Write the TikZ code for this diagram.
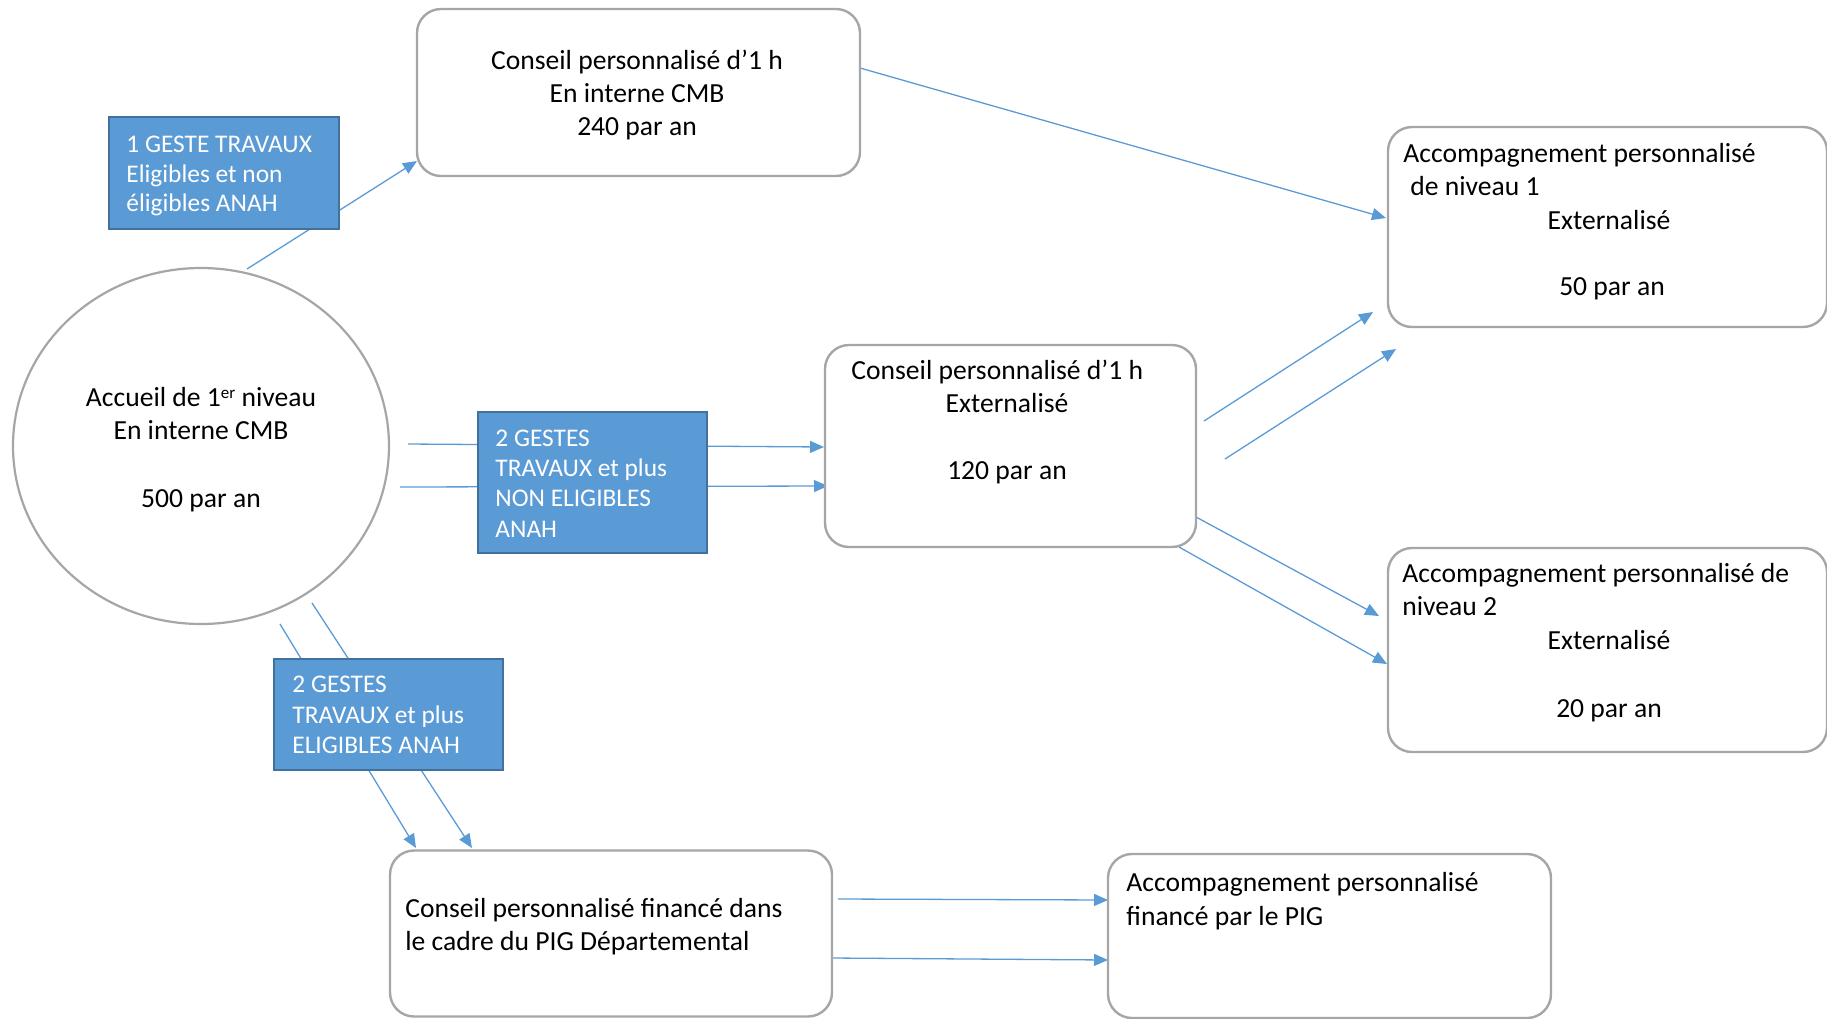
\documentclass[tikz,border=0pt]{standalone}
\usepackage{fontspec}
\setmainfont{Carlito}
\usetikzlibrary{arrows.meta,shapes.geometric}
\definecolor{lineblue}{HTML}{5B9BD5}
\definecolor{boxblue}{HTML}{5B9BD5}
\definecolor{boxedge}{HTML}{41719C}
\definecolor{greyedge}{HTML}{A6A6A6}
\begin{document}
\begin{tikzpicture}[x=0.5pt,y=-0.5pt,
  conn/.style={draw=lineblue, line width=0.65pt},
  arr/.style={conn, -{Triangle[length=7pt,width=6pt]}},
  rbox/.style={draw=greyedge, line width=1.2pt, rounded corners=12pt, fill=white, inner sep=0pt},
  bbox/.style={draw=boxedge, fill=boxblue, line width=1pt, inner sep=0pt},
  cbox/.style={ellipse, draw=greyedge, line width=1.1pt, fill=white, inner sep=0pt},
  txt/.style={inner sep=0pt, font=\fontsize{13.8}{16.5}\selectfont},
  wtxt/.style={inner sep=0pt, text=white, font=\fontsize{12.7}{15}\selectfont}]
\useasboundingbox (0,0) rectangle (1827,1018);

% connector end points
\coordinate (a1s) at (247,269);  \coordinate (a1e) at (417,161);
\coordinate (a2s) at (860,68);   \coordinate (a2e) at (1386,218);
\coordinate (a3s) at (408,444);  \coordinate (a3e) at (824,447);
\coordinate (a4s) at (400,487);  \coordinate (a4e) at (828,486);
\coordinate (a5s) at (1204,421); \coordinate (a5e) at (1373,312);
\coordinate (a6s) at (1225,459); \coordinate (a6e) at (1396,349);
\coordinate (a7s) at (1196,517); \coordinate (a7e) at (1379,616);
\coordinate (a8s) at (1179,547); \coordinate (a8e) at (1387,664);
\coordinate (a9s) at (280,624);  \coordinate (a9e) at (416,848);
\coordinate (a10s) at (312,603); \coordinate (a10e) at (472,848);
\coordinate (a11s) at (838,899); \coordinate (a11e) at (1108,900);
\coordinate (a12s) at (831,958); \coordinate (a12e) at (1108,960);

% connectors
\draw[arr] (a1s) -- (a1e);
\draw[arr] (a2s) -- (a2e);
\draw[arr] (a3s) -- (a3e);
\draw[arr] (a4s) -- (a4e);
\draw[arr] (a5s) -- (a5e);
\draw[arr] (a6s) -- (a6e);
\draw[arr] (a7s) -- (a7e);
\draw[arr] (a8s) -- (a8e);
\draw[arr] (a9s) -- (a9e);
\draw[arr] (a10s) -- (a10e);
\draw[arr] (a11s) -- (a11e);
\draw[arr] (a12s) -- (a12e);

% boxes
\node[rbox, minimum width=221.5pt, minimum height=83.5pt] (cmb) at (638.5,92.5) {};
\node[rbox, minimum width=185.5pt, minimum height=101pt] (ext) at (1010.5,446) {};
\node[rbox, minimum width=219.5pt, minimum height=100pt] (niv1) at (1607.5,227) {};
\node[rbox, minimum width=219.5pt, minimum height=102pt] (niv2) at (1607.5,650) {};
\node[rbox, minimum width=221pt, minimum height=83pt] (pig) at (611,933.5) {};
\node[rbox, minimum width=221.5pt, minimum height=82pt] (pigacc) at (1329.5,936) {};
\node[cbox, minimum width=188pt, minimum height=178pt] (circ) at (201,446) {};
\node[bbox, minimum width=115pt, minimum height=56pt] (blue1) at (224,173) {};
\node[bbox, minimum width=114.5pt, minimum height=70.5pt] (blue2) at (592.5,482.5) {};
\node[bbox, minimum width=114.5pt, minimum height=55.5pt] (blue3) at (388.5,714.5) {};

% texts
\node[txt, anchor=base] (cmb1) at (637,69) {Conseil personnalisé d’1 h};
\node[txt, anchor=base] (cmb2) at (637,102) {En interne CMB};
\node[txt, anchor=base] (cmb3) at (637,135) {240 par an};

\node[wtxt, anchor=base west] (b1a) at (126,152) {1 GESTE TRAVAUX};
\node[wtxt, anchor=base west] (b1b) at (126,182) {Eligibles et non};
\node[wtxt, anchor=base west] (b1c) at (126,211) {éligibles ANAH};

\node[txt, anchor=base] (c1) at (201,406) {Accueil de 1\raisebox{0.55ex}{\fontsize{8.5}{10}\selectfont er} niveau};
\node[txt, anchor=base] (c2) at (201,439) {En interne CMB};
\node[txt, anchor=base] (c3) at (201,507) {500 par an};

\node[wtxt, anchor=base west] (b2a) at (495,446) {2 GESTES};
\node[wtxt, anchor=base west] (b2b) at (495,476) {TRAVAUX et plus};
\node[wtxt, anchor=base west] (b2c) at (495,506) {NON ELIGIBLES};
\node[wtxt, anchor=base west] (b2d) at (495,537) {ANAH};

\node[txt, anchor=base west] (e1) at (851,379) {Conseil personnalisé d’1 h};
\node[txt, anchor=base] (e2) at (1007,412) {Externalisé};
\node[txt, anchor=base] (e3) at (1007,479) {120 par an};

\node[txt, anchor=base west] (n1a) at (1403,162) {Accompagnement personnalisé};
\node[txt, anchor=base west] (n1b) at (1410,195) {de niveau 1};
\node[txt, anchor=base] (n1c) at (1609,229) {Externalisé};
\node[txt, anchor=base] (n1d) at (1612,295) {50 par an};

\node[txt, anchor=base west] (n2a) at (1402,582) {Accompagnement personnalisé de};
\node[txt, anchor=base west] (n2b) at (1402,615) {niveau 2};
\node[txt, anchor=base] (n2c) at (1609,649) {Externalisé};
\node[txt, anchor=base] (n2d) at (1609,717) {20 par an};

\node[wtxt, anchor=base west] (b3a) at (292,692) {2 GESTES};
\node[wtxt, anchor=base west] (b3b) at (292,723) {TRAVAUX et plus};
\node[wtxt, anchor=base west] (b3c) at (292,753) {ELIGIBLES ANAH};

\node[txt, anchor=base west] (p1) at (405,917) {Conseil personnalisé financé dans};
\node[txt, anchor=base west] (p2) at (405,950) {le cadre du PIG Départemental};

\node[txt, anchor=base west] (q1) at (1126,891) {Accompagnement personnalisé};
\node[txt, anchor=base west] (q2) at (1126,925) {financé par le PIG};
\end{tikzpicture}
\end{document}
